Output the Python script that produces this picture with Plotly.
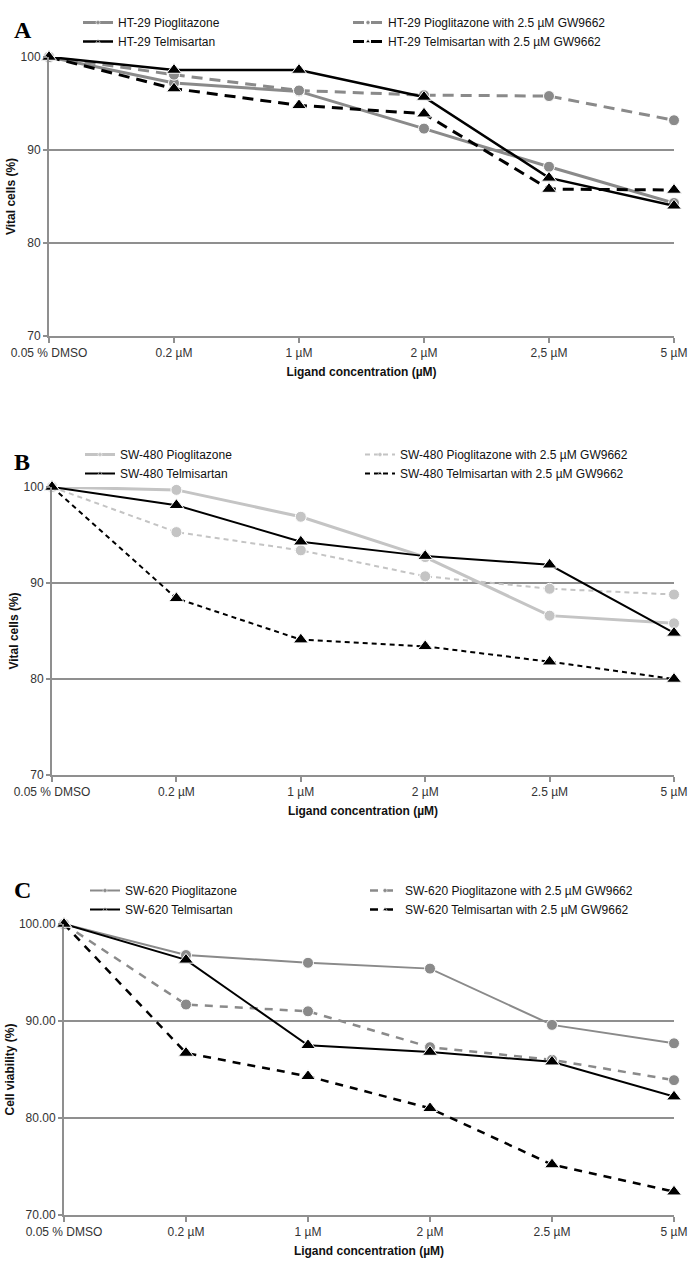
import plotly.graph_objects as go

categories = ["0.05 % DMSO", "0.2 µM", "1 µM", "2 µM", "2.5 µM", "5 µM"]
categories_a = ["0.05 % DMSO", "0.2 µM", "1 µM", "2 µM", "2,5 µM", "5 µM"]

# Panel A: HT-29
ht29_pio = [100, 97.2, 96.3, 92.3, 88.2, 84.3]
ht29_pio_gw = [100, 98.1, 96.4, 95.9, 95.8, 93.2]
ht29_tel = [100, 98.6, 98.6, 95.7, 87.0, 84.0]
ht29_tel_gw = [100, 96.6, 94.8, 93.9, 85.8, 85.7]

# Panel B: SW-480
sw480_pio = [100, 99.7, 96.9, 92.7, 86.6, 85.8]
sw480_pio_gw = [100, 95.3, 93.4, 90.7, 89.4, 88.8]
sw480_tel = [100, 98.1, 94.3, 92.8, 91.9, 84.8]
sw480_tel_gw = [100, 88.4, 84.1, 83.4, 81.8, 80.0]

# Panel C: SW-620
sw620_pio = [100, 96.8, 96.0, 95.4, 89.6, 87.7]
sw620_pio_gw = [100, 91.7, 91.0, 87.3, 86.0, 83.9]
sw620_tel = [100, 96.3, 87.5, 86.8, 85.8, 82.2]
sw620_tel_gw = [100, 86.7, 84.3, 81.0, 75.2, 72.4]

y_ticks = [70, 80, 90, 100]
y_ticktext_ab = ["70", "80", "90", "100"]
y_ticktext_c = ["70.00", "80.00", "90.00", "100.00"]

FONT = "Liberation Sans, Arial, sans-serif"
GRID = "#8f8f8f"
GRAY = "#8a8a8a"
LIGHT = "#c4c4c4"
BLACK = "#000000"

fig = go.Figure()

def add(x, y, name, color, width, dash, symbol, msize, xa, ya, legend):
    # data trace
    fig.add_trace(go.Scatter(
        x=x, y=y, name=name, mode="lines+markers", showlegend=False,
        line=dict(color=color, width=width, dash=dash),
        marker=dict(symbol=symbol, size=msize, color=color,
                    line=dict(color="white", width=1)),
        xaxis=xa, yaxis=ya, cliponaxis=False,
    ))
    # legend entry (small marker, as in the original legend key)
    fig.add_trace(go.Scatter(
        x=[None], y=[None], name=name, mode="lines+markers", showlegend=True,
        line=dict(color=color, width=width, dash=dash),
        marker=dict(symbol=symbol, size=4, color=color,
                    line=dict(color="white", width=0.5)),
        xaxis=xa, yaxis=ya, legend=legend,
    ))

# Panel A
add(categories_a, ht29_pio, "HT-29 Pioglitazone", GRAY, 3, "solid", "circle", 11, "x", "y", "legend")
add(categories_a, ht29_pio_gw, "HT-29 Pioglitazone with 2.5 µM GW9662", GRAY, 3, "11px,7px", "circle", 11, "x", "y", "legend")
add(categories_a, ht29_tel, "HT-29 Telmisartan", BLACK, 2.5, "solid", "triangle-up", 13, "x", "y", "legend")
add(categories_a, ht29_tel_gw, "HT-29 Telmisartan with 2.5 µM GW9662", BLACK, 3, "11px,7px", "triangle-up", 13, "x", "y", "legend")

# Panel B
add(categories, sw480_pio, "SW-480 Pioglitazone", LIGHT, 3, "solid", "circle", 11, "x2", "y2", "legend2")
add(categories, sw480_pio_gw, "SW-480 Pioglitazone with 2.5 µM GW9662", LIGHT, 2, "5px,4px", "circle", 11, "x2", "y2", "legend2")
add(categories, sw480_tel, "SW-480 Telmisartan", BLACK, 2, "solid", "triangle-up", 13, "x2", "y2", "legend2")
add(categories, sw480_tel_gw, "SW-480 Telmisartan with 2.5 µM GW9662", BLACK, 2, "5px,4px", "triangle-up", 13, "x2", "y2", "legend2")

# Panel C
add(categories, sw620_pio, "SW-620 Pioglitazone", GRAY, 2, "solid", "circle", 11, "x3", "y3", "legend3")
add(categories, sw620_pio_gw, "SW-620 Pioglitazone with 2.5 µM GW9662", GRAY, 2.5, "8px,7px", "circle", 11, "x3", "y3", "legend3")
add(categories, sw620_tel, "SW-620 Telmisartan", BLACK, 2, "solid", "triangle-up", 13, "x3", "y3", "legend3")
add(categories, sw620_tel_gw, "SW-620 Telmisartan with 2.5 µM GW9662", BLACK, 2.5, "8px,7px", "triangle-up", 13, "x3", "y3", "legend3")

W, H = 688, 1273

def xd(left):
    return [left / W, 674 / W]

def yd(top, bottom):
    return [1 - bottom / H, 1 - top / H]

def xaxis(domain, anchor, cats):
    return dict(
        domain=domain, anchor=anchor, type="category",
        categoryorder="array", categoryarray=cats, automargin=False,
        range=[0, 5], showgrid=False, zeroline=False,
        showline=True, linecolor=GRID, linewidth=2,
        ticks="outside", ticklen=5, tickwidth=2, tickcolor=GRID,
        tickfont=dict(family=FONT, size=12, color="#333333"),
        title=dict(text="<b>Ligand concentration (µM)</b>",
                   font=dict(family=FONT, size=12, color="#111111"), standoff=8),
    )

def yaxis(domain, anchor, ticktext, title):
    return dict(
        domain=domain, anchor=anchor, range=[70, 100], automargin=False,
        tickmode="array", tickvals=y_ticks, ticktext=ticktext,
        showgrid=True, gridcolor=GRID, gridwidth=2, zeroline=False,
        showline=True, linecolor=GRID, linewidth=2,
        ticks="outside", ticklen=4, tickwidth=2, tickcolor=GRID,
        tickfont=dict(family=FONT, size=12, color="#333333"),
        title=dict(text="<b>" + title + "</b>",
                   font=dict(family=FONT, size=12, color="#111111"), standoff=2),
    )

def legend(x, top, ew):
    return dict(
        orientation="h", x=x, y=1 - top / H, xanchor="left", yanchor="top",
        entrywidth=ew, entrywidthmode="pixels", tracegroupgap=0,
        font=dict(family=FONT, size=12, color="#111111"),
        bgcolor="rgba(0,0,0,0)", itemsizing="trace",
    )

fig.update_layout(
    width=W, height=H, margin=dict(l=0, r=0, t=0, b=0),
    paper_bgcolor="white", plot_bgcolor="white",
    showlegend=True,
    xaxis=xaxis(xd(49), "y", categories_a),
    yaxis=yaxis(yd(57, 336), "x", y_ticktext_ab, "Vital cells (%)"),
    xaxis2=xaxis(xd(52), "y2", categories),
    yaxis2=yaxis(yd(487, 775), "x2", y_ticktext_ab, "Vital cells (%)"),
    xaxis3=xaxis(xd(64), "y3", categories),
    yaxis3=yaxis(yd(924, 1215), "x3", y_ticktext_c, "Cell viability (%)"),
    legend=legend(78 / W, 8, 225),
    legend2=legend(80 / W, 440, 235),
    legend3=legend(85 / W, 876, 235),
)

for letter, ytop in [("A", 30), ("B", 462), ("C", 890)]:
    fig.add_annotation(
        text="<b>" + letter + "</b>", xref="paper", yref="paper",
        x=12 / W, y=1 - ytop / H, xanchor="left", yanchor="middle",
        showarrow=False,
        font=dict(family="Liberation Serif, Times New Roman, serif", size=24, color="black"),
    )

fig.write_html(
    "out.html",
    config={"displayModeBar": False},
    post_script="document.body.style.margin='0';document.body.style.padding='0';",
)
